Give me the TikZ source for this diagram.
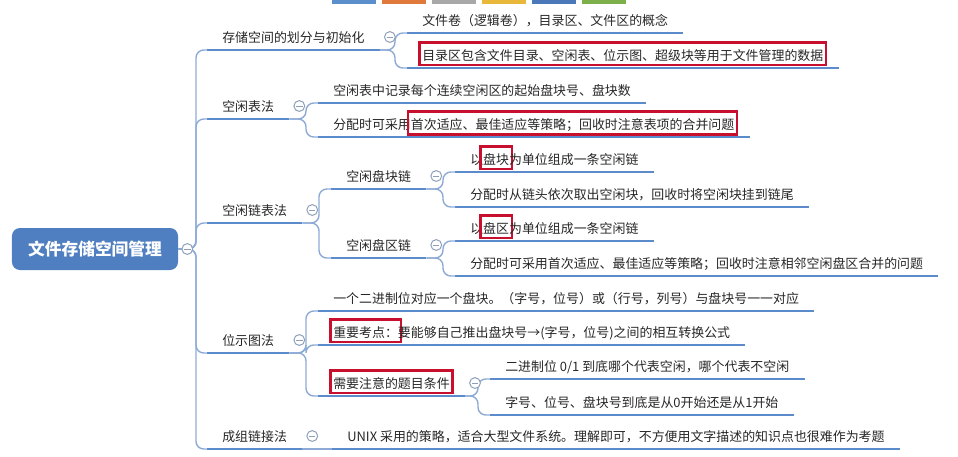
\documentclass[tikz,border=0pt]{standalone}
\usepackage{fontspec}
\setmainfont{Noto Sans CJK SC}
\usepackage{tikz}
\usetikzlibrary{positioning, calc}
\usepackage{xcolor}
\definecolor{rootblue}{HTML}{4F7FC0}
\definecolor{lineblue}{HTML}{5C8BCB}
\definecolor{linkblue}{HTML}{8DAAD6}
\definecolor{markred}{HTML}{C8102E}
\definecolor{textgray}{HTML}{262626}
\definecolor{foldgray}{HTML}{8E9FB8}
\definecolor{tabblue}{HTML}{5B8FCB}
\definecolor{taborange}{HTML}{E07A3C}
\definecolor{tabgray}{HTML}{A8A8A8}
\definecolor{tabyellow}{HTML}{E8B83A}
\definecolor{tabnavy}{HTML}{4A78B8}
\definecolor{tabgreen}{HTML}{7DB04A}

\newcommand{\hlbox}[1]{{\color{markred}\setlength\fboxrule{1.6pt}\setlength\fboxsep{1.1pt}%
  \kern-2.7pt\fbox{\color{textgray}\rule[-1.2pt]{0pt}{12.3pt}#1}\kern-2.7pt}}

\begin{document}
\begin{tikzpicture}[
  x=0.025cm, y=-0.025cm,
  root/.style={rectangle, rounded corners=0.2cm, fill=rootblue, text=white,
    font=\fontsize{11.9pt}{14pt}\selectfont\bfseries, minimum width=4.15cm, minimum height=1.05cm},
  topic/.style={anchor=south west, inner xsep=0.375cm, inner ysep=0pt, text height=0.3cm,
    text depth=0.175cm, font=\fontsize{9.2pt}{11pt}\selectfont, text=textgray},
  uline/.style={lineblue, line width=2.1pt},
  link/.style={linkblue, line width=1pt, rounded corners=5.5pt},
  fold/.style={circle, draw=foldgray, fill=white, line width=0.7pt, inner sep=0pt, minimum size=0.27cm,
    path picture={\draw[foldgray, line width=0.7pt] ([xshift=-0.08cm]path picture bounding box.center)
      -- ([xshift=0.08cm]path picture bounding box.center);}},
]
  \useasboundingbox (0,0) rectangle (958,456);
  \foreach \x/\c in {332/tabblue, 382/taborange, 432/tabgray, 482/tabyellow, 532/tabnavy, 582/tabgreen}
    \fill[\c] (\x,0) rectangle ++(44,4);

  \node[root] (root) at (95,249) {文件存储空间管理};

  \node[topic] (init) at (207,50) {存储空间的划分与初始化};
  \node[topic] (table) at (207,119) {空闲表法};
  \node[topic] (chain) at (207,223) {空闲链表法};
  \node[topic] (bitmap) at (207,353) {位示图法};
  \node[topic] (group) at (207,449) {成组链接法};

  \node[topic] (init-a) at (407,33) {文件卷（逻辑卷），目录区、文件区的概念};
  \node[topic] (init-b) at (407,68) {\hlbox{目录区包含文件目录、空闲表、位示图、超级块等用于文件管理的数据}};

  \node[topic] (table-a) at (318,103) {空闲表中记录每个连续空闲区的起始盘块号、盘块数};
  \node[topic] (table-b) at (318,137) {分配时可采用\hlbox{首次适应、最佳适应等策略；回收时注意表项的合并问题}};

  \node[topic] (blk) at (331,189) {空闲盘块链};
  \node[topic] (ext) at (331,258) {空闲盘区链};
  \node[topic] (blk-a) at (455,172) {以\hlbox{盘块}为单位组成一条空闲链};
  \node[topic] (blk-b) at (455,207) {分配时从链头依次取出空闲块，回收时将空闲块挂到链尾};
  \node[topic] (ext-a) at (455,241) {以\hlbox{盘区}为单位组成一条空闲链};
  \node[topic] (ext-b) at (455,276) {分配时可采用首次适应、最佳适应等策略；回收时注意相邻空闲盘区合并的问题};

  \node[topic] (bit-a) at (318,311) {一个二进制位对应一个盘块。（字号，位号）或（行号，列号）与盘块号一一对应};
  \node[topic] (bit-b) at (318,345) {\hlbox{重要考点：}要能够自己推出盘块号→(字号，位号)之间的相互转换公式};
  \node[topic] (bit-c) at (318,396) {\hlbox{需要注意的题目条件}};
  \node[topic] (bit-c1) at (490,379) {二进制位 0/1 到底哪个代表空闲，哪个代表不空闲};
  \node[topic] (bit-c2) at (490,415) {字号、位号、盘块号到底是从0开始还是从1开始};

  \node[topic] (group-a) at (332,449) {UNIX 采用的策略，适合大型文件系统。理解即可，不方便用文字描述的知识点也很难作为考题};

  \foreach \n in {init, table, chain, bitmap, group, init-a, init-b, table-a, table-b, blk, ext,
      blk-a, blk-b, ext-a, ext-b, bit-a, bit-b, bit-c, bit-c1, bit-c2, group-a}
    \draw[uline] (\n.south west) -- (\n.south east);

  \foreach \n in {init, table, chain, bitmap, group}
    \draw[link] (root.east) -| ([xshift=-0.275cm]\n.south west) -- (\n.south west);
  \foreach \p/\c in {init/init-a, init/init-b, table/table-a, table/table-b, chain/blk, chain/ext,
      blk/blk-a, blk/blk-b, ext/ext-a, ext/ext-b, bitmap/bit-a, bitmap/bit-b, bitmap/bit-c,
      bit-c/bit-c1, bit-c/bit-c2}
    \draw[link] (\p.south east) -| ([xshift=-0.3cm]\c.south west) -- (\c.south west);
  \draw[link] (group.south east) -- (group-a.south west);

  \node[fold] (f-root) at ([xshift=0.225cm]root.east) {};
  \foreach \n in {init, table, chain, bitmap, group, blk, ext, bit-c}
    \node[fold] (f-\n) at ([shift={(10,-13)}]\n.south east) {};
\end{tikzpicture}
\end{document}
